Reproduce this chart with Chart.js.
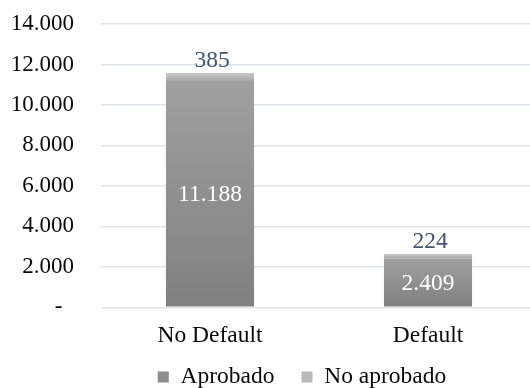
<!DOCTYPE html>
<html lang="es">
<head>
<meta charset="utf-8">
<title>Aprobado / No aprobado por Default</title>
<script src="https://cdn.jsdelivr.net/npm/chart.js@4.4.1/dist/chart.umd.min.js"></script>
<style>
  html, body { margin: 0; padding: 0; background: #fff; overflow: hidden; }
  /* plot runs a few px past the right edge, like the source sheet */
  #wrap { position: relative; width: 537px; height: 388px; }
</style>
</head>
<body>
<div id="wrap"><canvas id="defaultChart"></canvas></div>
<script>
'use strict';

// ── Data ────────────────────────────────────────────────────────────────────
const categories   = ['No Default', 'Default'];
const aprobado     = [11188, 2409];
const noAprobado   = [385, 224];
const seriesNames  = ['Aprobado', 'No aprobado'];
const yTicks       = [0, 2000, 4000, 6000, 8000, 10000, 12000, 14000];

// ── Theme ───────────────────────────────────────────────────────────────────
const FONT      = "'Liberation Serif', 'Times New Roman', serif";
const FONT_SIZE = 23.5;
const TICK_SIZE = 23;
const INK       = '#0a0a0a';
const LABEL_TOP = '#44546a';
const GRID      = '#dfe3ea';

const LEGEND_CENTER = 302;   // x of legend block centre
const LEGEND_TEXT_Y = 377;   // y of legend text centre
const LEGEND_GAP    = 27;

const FILLS = [
  { top: '#a0a0a0', bottom: '#808080', key: '#8c8c8c' },   // Aprobado
  { top: '#c8c8c8', bottom: '#a7a7a7', key: '#bababa' },   // No aprobado
];

// es-style thousands separator; zero shown as a dash
function fmt(v) {
  if (v === 0) return '-';
  return String(v).replace(/\B(?=(\d{3})+(?!\d))/g, '.');
}

// vertical gradient spanning each stacked segment
function segmentFill(top, bottom) {
  return (ctx) => {
    const chart = ctx.chart;
    if (ctx.type !== 'data' || !chart.chartArea) return bottom;
    const y = chart.scales.y;
    let start = 0;
    for (let i = 0; i < ctx.datasetIndex; i++) {
      start += chart.data.datasets[i].data[ctx.dataIndex];
    }
    const end = start + ctx.raw;
    const g = chart.ctx.createLinearGradient(0, y.getPixelForValue(end), 0, y.getPixelForValue(start));
    g.addColorStop(0, top);
    g.addColorStop(1, bottom);
    return g;
  };
}

// value labels: bottom segment centred in white, top segment above the bar
const valueLabels = {
  id: 'valueLabels',
  afterDatasetsDraw(chart) {
    const { ctx } = chart;
    ctx.save();
    ctx.font = `${FONT_SIZE}px ${FONT}`;
    ctx.textAlign = 'center';
    chart.data.datasets.forEach((ds, i) => {
      chart.getDatasetMeta(i).data.forEach((bar, j) => {
        const text = fmt(ds.data[j]);
        if (i === 0) {
          ctx.fillStyle = '#ffffff';
          ctx.textBaseline = 'middle';
          ctx.fillText(text, bar.x, (bar.y + bar.base) / 2 + 1);
        } else {
          ctx.fillStyle = LABEL_TOP;
          ctx.textBaseline = 'alphabetic';
          ctx.fillText(text, bar.x + 2, bar.y - 6);
        }
      });
    });
    ctx.restore();
  },
};

// legend sits off-centre, under the plot rather than the canvas
const legendPlacement = {
  id: 'legendPlacement',
  afterLayout(chart) {
    const lg = chart.legend;
    if (!lg) return;
    const dx = LEGEND_CENTER - (lg.left + lg.right) / 2;
    lg.left += dx;
    lg.right += dx;
    lg.top = LEGEND_TEXT_Y - LEGEND_GAP - FONT_SIZE / 2;
  },
};

const ctx = document.getElementById('defaultChart').getContext('2d');

new Chart(ctx, {
  type: 'bar',
  data: {
    labels: categories,
    datasets: [
      {
        label: seriesNames[0],
        data: aprobado,
        backgroundColor: segmentFill(FILLS[0].top, FILLS[0].bottom),
        borderWidth: 0,
        categoryPercentage: 1,
        barPercentage: 0.404,
      },
      {
        label: seriesNames[1],
        data: noAprobado,
        backgroundColor: segmentFill(FILLS[1].top, FILLS[1].bottom),
        borderWidth: 0,
        categoryPercentage: 1,
        barPercentage: 0.404,
      },
    ],
  },
  options: {
    responsive: true,
    maintainAspectRatio: false,
    animation: false,
    layout: { padding: { left: 0, right: 0, top: 24, bottom: 0 } },
    plugins: {
      tooltip: { enabled: false },
      legend: {
        position: 'bottom',
        maxHeight: 35.7,
        labels: {
          color: INK,
          font: { family: FONT, size: FONT_SIZE },
          boxWidth: 11,
          boxHeight: 11,
          padding: LEGEND_GAP,
          generateLabels: (chart) =>
            Chart.defaults.plugins.legend.labels.generateLabels(chart).map((item, i) => ({
              ...item,
              fillStyle: FILLS[i].key,
              strokeStyle: FILLS[i].key,
              lineWidth: 0,
            })),
        },
      },
    },
    scales: {
      x: {
        stacked: true,
        grid: { display: false, drawTicks: false },
        border: { display: false },
        ticks: {
          color: INK,
          font: { family: FONT, size: FONT_SIZE },
          padding: 14,
        },
        afterFit: (scale) => { scale.height = 45; },
      },
      y: {
        stacked: true,
        min: yTicks[0],
        max: yTicks[yTicks.length - 1],
        // invisible tick marks hold the labels off the plot
        grid: { color: GRID, lineWidth: 1.5, drawTicks: true, tickLength: 27, tickColor: 'rgba(0,0,0,0)' },
        border: { display: false },
        afterBuildTicks: (scale) => { scale.ticks = yTicks.map(v => ({ value: v })); },
        ticks: {
          color: INK,
          font: { family: FONT, size: TICK_SIZE },
          padding: 0,
          callback: (v) => (v === 0 ? '-  ' : fmt(v)),
        },
        afterFit: (scale) => { scale.width = 101; },
      },
    },
  },
  plugins: [valueLabels, legendPlacement],
});
</script>
</body>
</html>
